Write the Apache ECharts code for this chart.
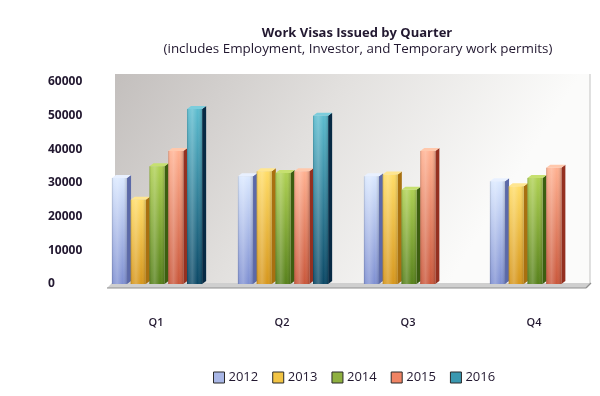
<!DOCTYPE html>
<html>
<head>
<meta charset="utf-8">
<script src="https://cdn.jsdelivr.net/npm/echarts@6/dist/echarts.min.js"></script>
<style>
  html, body { margin: 0; padding: 0; background: #ffffff; }
  #chart { width: 600px; height: 396px; }
</style>
</head>
<body>
<div id="chart"></div>
<script>
// ---- data ----
var categories = ['Q1', 'Q2', 'Q3', 'Q4'];
var years = ['2012', '2013', '2014', '2015', '2016'];
var v2012 = [31500, 32000, 32000, 30500];
var v2013 = [25000, 33500, 32500, 29000];
var v2014 = [35000, 33000, 28000, 31500];
var v2015 = [39500, 33500, 39500, 34500];
var v2016 = [52000, 50000, null, null];
var yTicks = [0, 10000, 20000, 30000, 40000, 50000, 60000];

var seriesValues = [v2012, v2013, v2014, v2015, v2016];

// ---- styles ----
var palette = [
  { top: '#dae8ff', bottom: '#7f90d2', side: '#5b69a8', cap: '#e8f0ff', legend: '#a9b7e6' },
  { top: '#ffdc66', bottom: '#d6961c', side: '#a87010', cap: '#ffe690', legend: '#f2c444' },
  { top: '#aed052', bottom: '#56801a', side: '#3c5e10', cap: '#c6e070', legend: '#8eb040' },
  { top: '#ffb090', bottom: '#c9563a', side: '#943020', cap: '#ffc8ac', legend: '#f08464' },
  { top: '#5cbccf', bottom: '#0b4866', side: '#072a44', cap: '#7ccddc', legend: '#3a98b0' }
];
var FONT = '"Open Sans", "DejaVu Sans", sans-serif';
var TEXT = '#221830';

function makeRender(s) {
  var c = palette[s];
  return function (params, api) {
    var cat = api.value(0);
    var val = api.value(1);
    if (val == null || isNaN(val)) return null;
    var p0 = api.coord([cat, 0]);
    var p1 = api.coord([cat, val]);
    var band = api.size([1, 0])[0];
    var pitch = band * 0.149;
    var w = band * 0.12;
    var d = band * 0.032;
    var rise = 3;
    var off = band * 0.024;
    var groupW = 4 * pitch + w + d;
    var x = p0[0] + off - groupW / 2 + s * pitch;
    var yTop = p1[1];
    var yBot = p0[1];
    var h = yBot - yTop;
    return {
      type: 'group',
      children: [
        {
          type: 'polygon',
          shape: { points: [[x + w, yTop], [x + w + d, yTop - rise], [x + w + d, yBot - rise], [x + w, yBot]] },
          style: { fill: c.side }
        },
        {
          type: 'polygon',
          shape: { points: [[x, yTop], [x + d, yTop - rise], [x + w + d, yTop - rise], [x + w, yTop]] },
          style: { fill: c.cap }
        },
        {
          type: 'rect',
          shape: { x: x, y: yTop, width: w, height: h },
          style: {
            fill: new echarts.graphic.LinearGradient(0, 0, 0, 1, [
              { offset: 0, color: c.top },
              { offset: 1, color: c.bottom }
            ])
          }
        },
        {
          type: 'rect',
          shape: { x: x, y: yTop, width: w, height: h },
          style: {
            fill: new echarts.graphic.LinearGradient(0, 0, 1, 0, [
              { offset: 0, color: 'rgba(0,0,0,0.18)' },
              { offset: 0.12, color: 'rgba(255,255,255,0.10)' },
              { offset: 0.35, color: 'rgba(255,255,255,0.22)' },
              { offset: 0.7, color: 'rgba(255,255,255,0.0)' },
              { offset: 1, color: 'rgba(0,0,0,0.18)' }
            ])
          }
        }
      ]
    };
  };
}

var series = years.map(function (y, s) {
  return {
    name: y,
    type: 'custom',
    renderItem: makeRender(s),
    itemStyle: { color: palette[s].legend },
    encode: { x: 0, y: 1 },
    z: 3,
    data: seriesValues[s].map(function (v, i) { return [i, v == null ? '-' : v]; })
  };
});

var chart = echarts.init(document.getElementById('chart'), null, { renderer: 'canvas' });
chart.setOption({
  backgroundColor: '#ffffff',
  animation: false,
  title: [
    {
      text: 'Work Visas Issued by Quarter',
      left: 352, top: 22, textAlign: 'center',
      textStyle: { fontFamily: FONT, fontSize: 13, fontWeight: 'bold', color: TEXT }
    },
    {
      text: '(includes Employment, Investor, and Temporary work permits)',
      left: 353, top: 38, textAlign: 'center',
      textStyle: { fontFamily: FONT, fontSize: 13.4, fontWeight: 'normal', color: TEXT }
    }
  ],
  graphic: [
    {
      type: 'rect', z: 0, silent: true,
      shape: { x: 115, y: 74, width: 475, height: 211 },
      style: {
        fill: new echarts.graphic.LinearGradient(0, 0, 0.7, 1, [
          { offset: 0, color: '#c3bfbd' },
          { offset: 0.5, color: '#e2e0de' },
          { offset: 1, color: '#fbfbfa' }
        ])
      }
    },
    {
      type: 'line', z: 1, silent: true,
      shape: { x1: 590, y1: 74, x2: 590, y2: 283 },
      style: { stroke: '#c2c2c2', lineWidth: 1 }
    },
    {
      type: 'polygon', z: 1, silent: true,
      shape: { points: [[107, 288], [586, 288], [591, 283], [112, 283]] },
      style: { fill: '#cfcfcf' }
    },
    {
      type: 'line', z: 1, silent: true,
      shape: { x1: 107, y1: 288, x2: 586, y2: 288 },
      style: { stroke: '#8f8f8f', lineWidth: 1.2 }
    },
    {
      type: 'line', z: 1, silent: true,
      shape: { x1: 586, y1: 288, x2: 591, y2: 283 },
      style: { stroke: '#8f8f8f', lineWidth: 1.2 }
    }
  ],
  legend: {
    data: years,
    left: 208, top: 366,
    icon: 'rect',
    itemWidth: 11, itemHeight: 11, itemGap: 14,
    itemStyle: { borderColor: '#2a2a2a', borderWidth: 1 },
    textStyle: { fontFamily: FONT, fontSize: 13, color: TEXT, padding: [0, 0, 0, -1] }
  },
  grid: { left: 93, width: 504, top: 82, height: 202, containLabel: false },
  xAxis: {
    type: 'category',
    data: categories,
    axisLine: { show: false },
    axisTick: { show: false },
    axisLabel: { margin: 33, fontFamily: FONT, fontSize: 11, fontWeight: 600, color: TEXT },
    splitLine: { show: false }
  },
  yAxis: {
    type: 'value',
    min: yTicks[0], max: yTicks[yTicks.length - 1], interval: yTicks[1] - yTicks[0],
    axisLine: { show: false },
    axisTick: { show: false },
    splitLine: { show: false },
    axisLabel: {
      align: 'left', margin: 45, fontFamily: FONT, fontSize: 12, fontWeight: 'bold', color: TEXT,
      formatter: function (v) { return String(v); }
    }
  },
  series: series
});
</script>
</body>
</html>
